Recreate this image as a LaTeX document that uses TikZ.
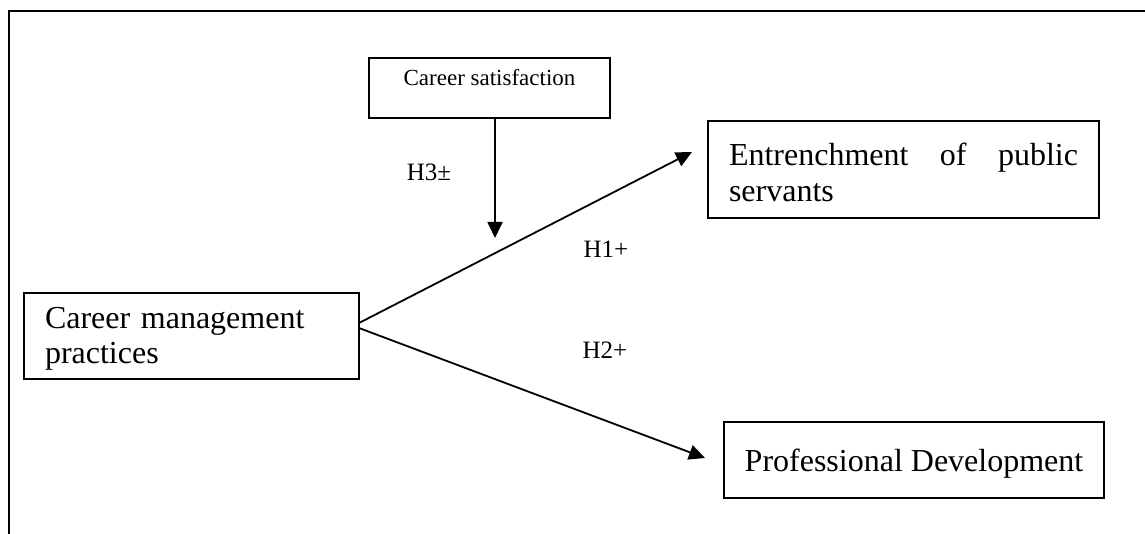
\documentclass[tikz,border=0pt]{standalone}
\usepackage{fontspec}
\setmainfont{Liberation Serif}
\usetikzlibrary{arrows.meta}
\begin{document}
\begin{tikzpicture}[x=1pt,y=-1pt,
  box/.style={draw,line width=2pt,inner sep=0pt,font=\fontsize{32}{35}\selectfont},
  lbl/.style={font=\fontsize{25}{28}\selectfont,inner sep=0pt},
  arr/.style={line width=1.8pt,-{Triangle[length=16pt,width=15pt]}}]
\useasboundingbox (0,0) rectangle (1145,534);
% outer frame (top and left edges)
\draw[line width=2pt] (1145,11) -- (9,11) -- (9,534);
% boxes
\node[box,anchor=north west,minimum width=241pt,minimum height=60pt,text depth=21pt,font=\fontsize{23}{26}\selectfont] (cs) at (368,57) {Career satisfaction};
\node[box,anchor=north west,minimum width=335pt,minimum height=86pt,text width=293pt,inner xsep=21pt,align=left,text height=26pt] (cmp) at (23,292) {Career management\\practices};
\node[box,anchor=north west,minimum width=391pt,minimum height=97pt,text width=349pt,inner xsep=21pt,align=justify,font=\fontsize{32}{36}\selectfont,text height=28pt] (ent) at (707,120) {Entrenchment\hfill of\hfill public\\servants};
\node[box,anchor=north west,minimum width=380pt,minimum height=76pt,text height=30pt,text depth=7pt] (pd) at (723,421) {Professional Development};
% connector end points
\coordinate (s1) at (359,323);
\coordinate (s2) at (359,328);
\coordinate (t1) at (692,152);
\coordinate (t2) at (705,458);
\coordinate (s3) at (495,117);
\coordinate (t3) at (495,238);
\draw[arr] (s1) -- (t1);
\draw[arr] (s2) -- (t2);
\draw[arr] (s3) -- (t3);
% labels
\node[lbl] (h3) at (429,172) {H3±};
\node[lbl] (h1) at (606,249) {H1+};
\node[lbl] (h2) at (605,350) {H2+};
\end{tikzpicture}
\end{document}
